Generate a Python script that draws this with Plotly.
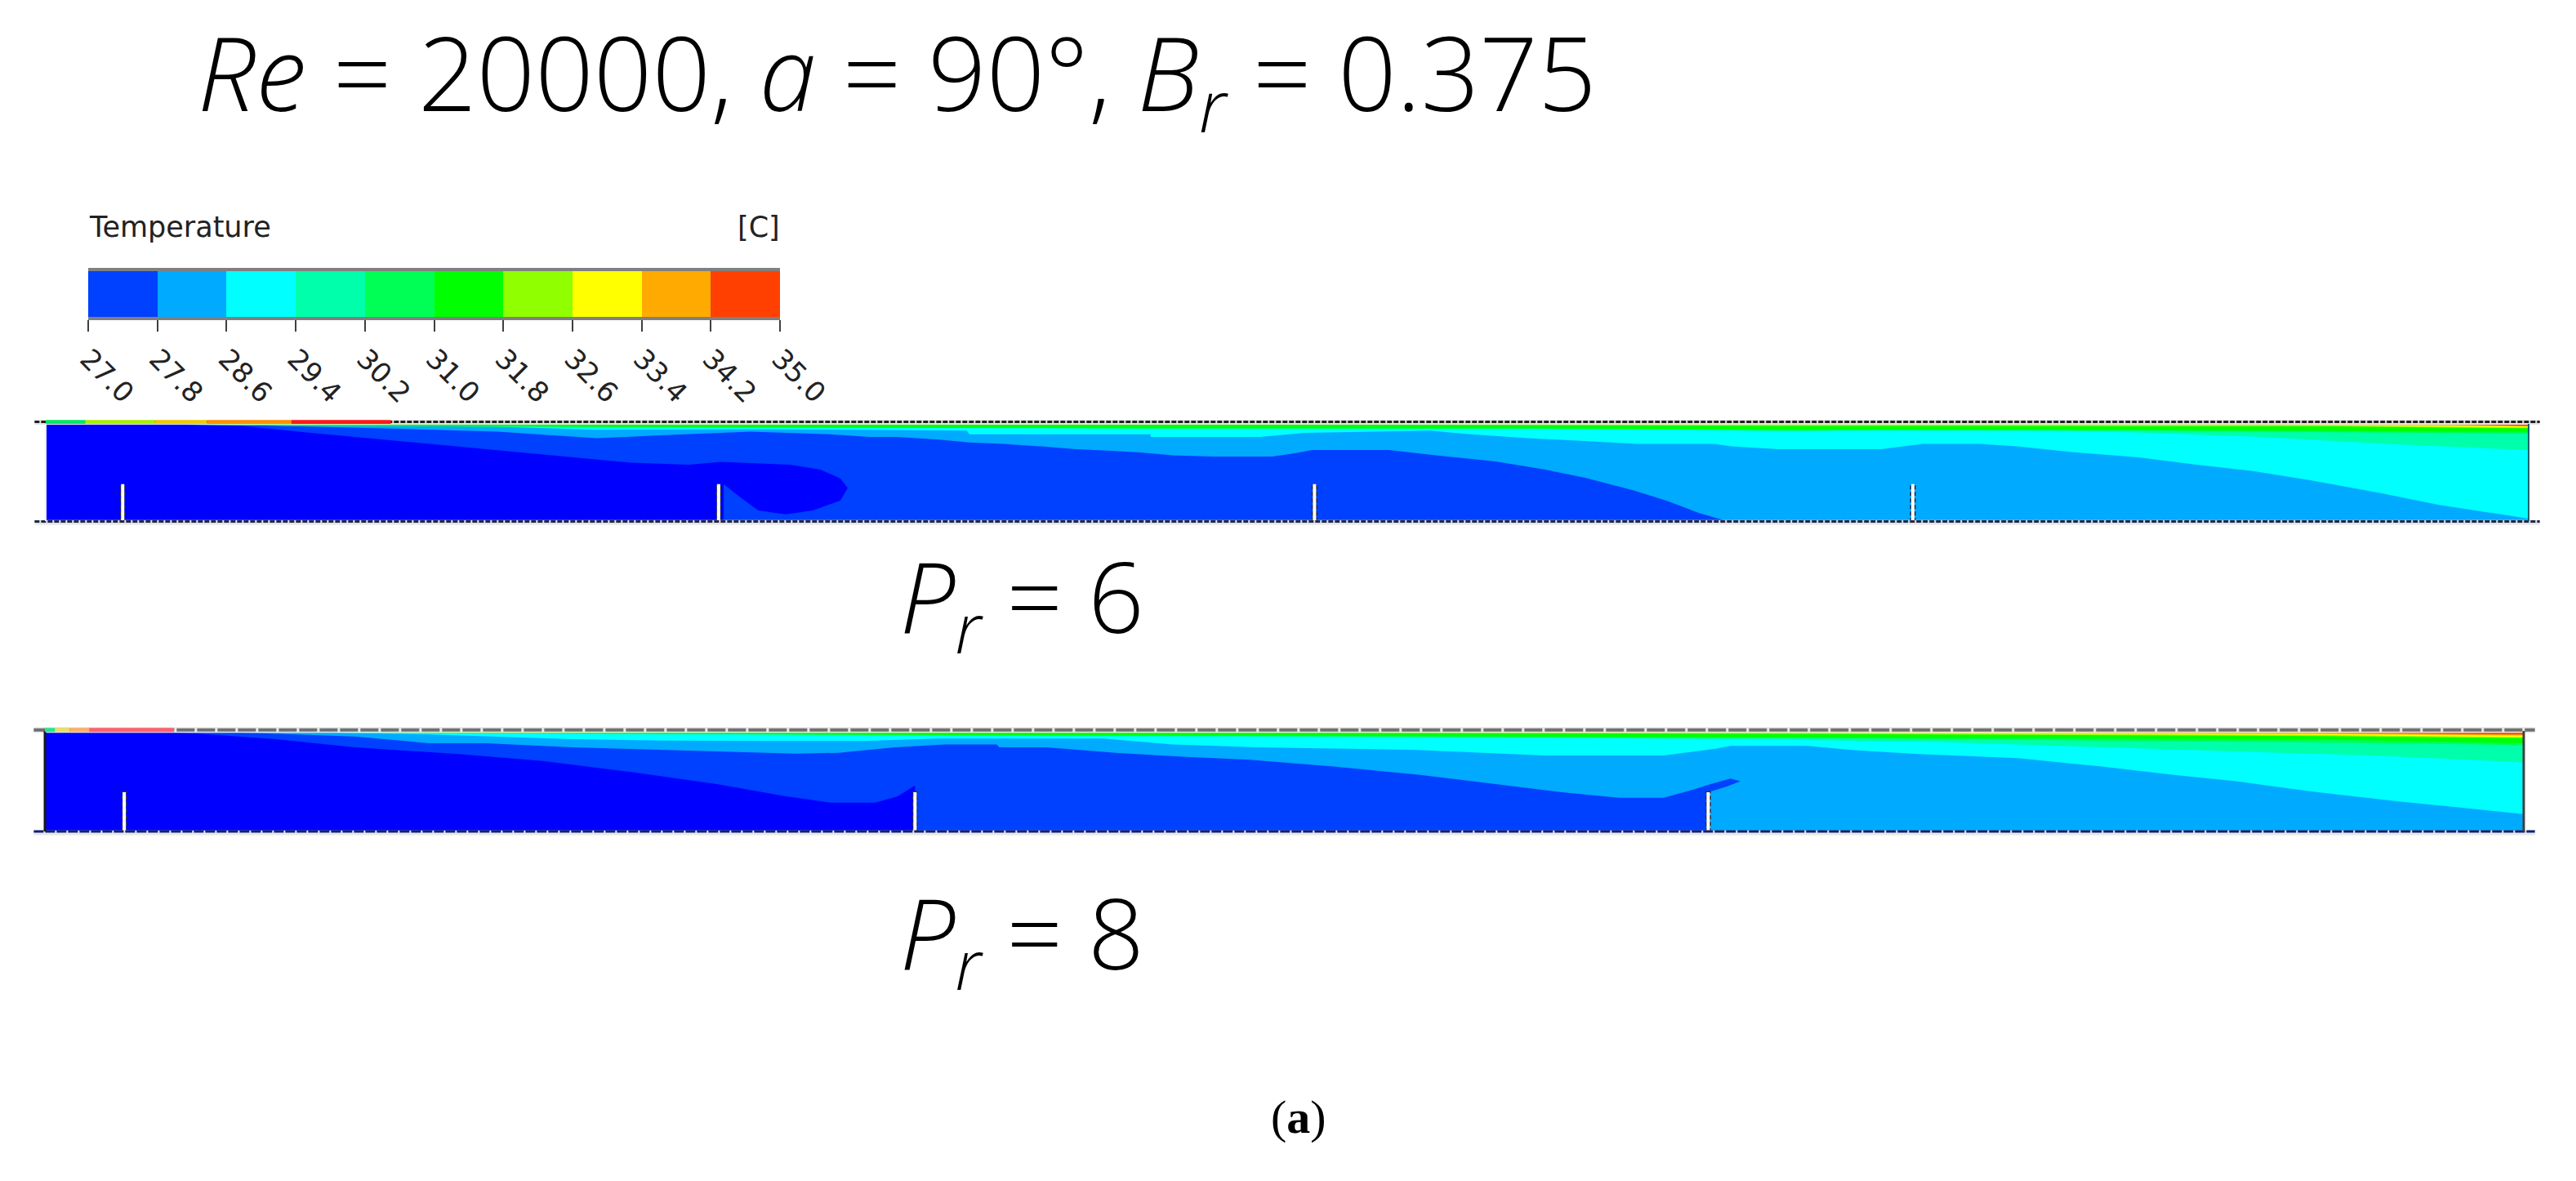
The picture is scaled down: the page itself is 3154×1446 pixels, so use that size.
import plotly.graph_objects as go

W, H = 3154, 1446

# colour legend
legend_ticks = [27.0, 27.8, 28.6, 29.4, 30.2, 31.0, 31.8, 32.6, 33.4, 34.2, 35.0]
legend_values = [27.4, 28.2, 29.0, 29.8, 30.6, 31.4, 32.2, 33.0, 33.8, 34.6]
legend_colors = ['#0040ff', '#00aaff', '#00ffff', '#00ffaa', '#00ff55',
                 '#00ff00', '#90ff00', '#ffff00', '#ffaa00', '#ff4000']

# isotherm lines, x in % of channel length, y in % of channel depth from top
# Pr = 6
p6_x = [[4, 7.9, 10.6, 14.3, 18.9, 23.6, 25.9, 27.2, 30, 31.2, 32, 32.3, 32, 30.9, 29.8, 28.7, 28, 27.3, 27.3, 100],
        [6, 10.4, 14.3, 18.2, 22.2, 24.7, 28.4, 31.6, 33.2, 34.3, 36, 37.2, 38.6, 40.1, 41.5, 42.8, 44.1, 45.4, 47, 49.4, 50.3, 51, 54.1, 56, 58.4, 60.4, 62, 63.9, 65.3, 66.6, 67.7, 100],
        [8, 14, 18.2, 22.2, 27, 28.4, 33, 34.3, 37.1, 37.2, 44.5, 44.5, 48.9, 50.7, 55.8, 57.4, 59.7, 62, 64.1, 67.2, 67.9, 69.8, 73.9, 75.6, 77.9, 79.4, 81.6, 84.3, 86.5, 88.9, 91.3, 94, 96.4, 100],
        [3, 20, 40, 60, 64.3, 70.5, 73.4, 78.8, 84.5, 89.3, 93.8, 100],
        [2, 10, 25, 45, 60, 70, 84, 100],
        [2, 10, 25, 45, 60, 70, 84, 100],
        [40, 60, 70, 78, 84, 92, 96, 100],
        [60, 80, 90, 95, 100],
        [70, 92, 96, 100],
        [95, 97, 100]]
p6_y = [[0, 2, 9, 18, 29, 40, 42, 39, 42, 47, 56, 66, 79, 89, 93, 89, 76, 62, 100, 100],
        [0, 2.5, 5, 7.9, 14.8, 11.8, 7.9, 10.8, 13.4, 13.4, 16.2, 19.1, 20.5, 23.2, 26.1, 27.5, 29.5, 32.3, 33.7, 33.7, 30.3, 26.9, 26.9, 32.3, 38.6, 47, 55.4, 68, 79.2, 91.8, 100, 100],
        [0, 1.5, 3, 6, 5.5, 5.5, 6, 6.5, 7, 10.8, 10.8, 13.4, 13.4, 9.2, 7, 10.8, 14.8, 17.6, 20.5, 20.5, 23.2, 26.1, 26.1, 20.5, 20.5, 23.2, 29, 34.5, 41.5, 48.5, 58.4, 71, 83.3, 97.5],
        [0, 1.5, 3.5, 5, 5.5, 8, 6, 5.5, 9, 13.4, 20, 26.9],
        [0, 2, 3.5, 4.8, 5, 6.5, 7, 10],
        [0, 1.8, 3, 4.5, 4.5, 6, 6, 8.4],
        [0, 1.5, 2, 2, 2.5, 2.5, 3.5, 4.5],
        [0, 1, 1, 2.5, 3.5],
        [0, 1, 1.5, 2.5],
        [0, 1, 2]]
p6_ribs = [3.1, 27.1, 51.1, 75.2]
p6_rib_top = 62
p6_wall_x = [0, 1.6, 4.4, 6.5, 9.9, 13.9]
p6_wall_colors = ['#00e860', '#a8f000', '#f0c800', '#ff9000', '#ff1818']

# Pr = 8
p8_x = [[4, 6.3, 9.3, 12.5, 16.7, 20.1, 23.6, 27.1, 29.9, 31.7, 33.5, 34.4, 35.1, 35.1, 100],
        [6, 10.4, 12.5, 15.5, 17.8, 21.3, 25, 27.6, 30.3, 32, 33.1, 34.3, 36.3, 38.4, 38.5, 40.4, 43.2, 45.9, 48.5, 51.9, 55.4, 58.9, 61.2, 63.5, 65.3, 66.5, 67.2, 68, 68.4, 67.8, 67.1, 67.1, 100],
        [8, 15.5, 21.3, 25, 29.2, 33, 36, 42.7, 45.5, 48.9, 52.6, 55.4, 58, 60.5, 65.3, 67.4, 68, 71.1, 72.9, 75.6, 79.6, 82.9, 85.8, 88.4, 91.7, 95.1, 97.3, 100],
        [3, 20, 40, 60, 68, 71, 76.2, 82.9, 88.4, 94, 100],
        [2, 20, 40, 60, 71, 76.2, 83, 94, 100],
        [2, 15, 30, 50, 70, 83, 92, 95, 100],
        [40, 55, 72, 83, 92, 100],
        [50, 72, 85, 92, 100],
        [60, 80, 92, 100],
        [85, 92, 100]]
p8_y = [[0, 2.8, 8.1, 16.3, 23, 29.8, 40.7, 52.8, 65, 71.3, 71.3, 65, 54.2, 100, 100],
        [0, 4, 5.4, 12.2, 12.2, 16.3, 19, 20.3, 22.5, 21.7, 19, 16.3, 13.5, 13.5, 16.3, 16.3, 21.7, 25.7, 28.5, 35.2, 43.4, 54.2, 61, 66.4, 66.4, 58.3, 52.8, 47.4, 50.1, 55.6, 61, 100, 100],
        [0, 3.5, 8.1, 9.5, 10, 10, 7.5, 7.5, 13.5, 16.3, 17.6, 19, 21.7, 24.4, 24.4, 17.6, 14.9, 14.9, 19, 23, 27.1, 35.2, 43.4, 50.1, 61, 70.5, 75.9, 82.7],
        [0, 2.5, 5, 6.5, 8, 9, 10.8, 16.3, 20.3, 24.4, 31.2],
        [0, 2.2, 4, 5.5, 7, 8, 9.5, 12, 14],
        [0, 2, 3.5, 5, 6, 7.5, 8.5, 10, 12.2],
        [0, 2, 3, 4, 5, 7],
        [0, 1.8, 3.5, 4, 6],
        [0, 2, 3, 4.5],
        [0, 1.5, 3.5]]
p8_ribs = [3.2, 35.1, 67.1]
p8_rib_top = 61
p8_wall_x = [0, 0.4, 1.0, 1.8, 5.2]
p8_wall_colors = ['#20e890', '#e8e060', '#ffb060', '#ff6070']

COLD = '#0000ff'

CH6 = dict(x0=56, x1=3096, top=519, bottom=638)
CH8 = dict(x0=55, x1=3090, top=895, bottom=1018)
X_RANGE = [-1, 101]
Y_RANGE = [104, -4]


def domains(ch):
    pad_x = (ch['x1'] - ch['x0']) / 100
    pad_y = 4 * (ch['bottom'] - ch['top']) / 100
    dx = [(ch['x0'] - pad_x) / W, (ch['x1'] + pad_x) / W]
    dy = [1 - (ch['bottom'] + pad_y) / H, 1 - (ch['top'] - pad_y) / H]
    return dx, dy


def add_channel(fig, axis, xs, ys, ribs, rib_top, wall_x, wall_colors, mesh):
    xa, ya = 'x' + axis, 'y' + axis

    def line(x, y, color, width, dash='solid'):
        fig.add_trace(go.Scatter(x=x, y=y, xaxis=xa, yaxis=ya, mode='lines', hoverinfo='skip',
                                 line=dict(color=color, width=width, dash=dash)))

    # coldest fluid first, each warmer band is painted over it from the top wall
    fig.add_trace(go.Scatter(x=[0, 100, 100, 0], y=[0, 0, 100, 100], xaxis=xa, yaxis=ya,
                             mode='lines', fill='toself', fillcolor=COLD, line=dict(width=0), hoverinfo='skip'))
    for bx, by, color in zip(xs, ys, legend_colors):
        fig.add_trace(go.Scatter(x=bx + [100, bx[0]], y=by + [0, 0], xaxis=xa, yaxis=ya,
                                 mode='lines', fill='toself', fillcolor=color, line=dict(width=0), hoverinfo='skip'))

    for rib in ribs:
        line([rib, rib], [101, rib_top - 1], mesh['rib'], 7, '5px,3px')
        line([rib, rib], [101, rib_top], 'white', 4)

    line([-0.45, 100.45], [mesh['top_y']] * 2, mesh['halo'], 7)
    line([-0.45, 100.45], [mesh['top_y']] * 2, mesh['top'], mesh['top_w'], mesh['top_dash'])
    line([-0.45, 100.45], [101.5] * 2, mesh['halo'], 6)
    line([-0.45, 100.45], [mesh['bot_y']] * 2, mesh['bot'], 3, mesh['bot_dash'])
    line([0, 0], [0, 100], mesh['left'], mesh['wall_w'])
    line([100, 100], [0, 100], mesh['right'], mesh['wall_w'])

    for i, color in enumerate(wall_colors):
        line(wall_x[i:i + 2], [mesh['top_y']] * 2, color, 5)


fig = go.Figure()

add_channel(fig, '', p6_x, p6_y, p6_ribs, p6_rib_top, p6_wall_x, p6_wall_colors,
            dict(top='#202020', top_w=3, top_dash='6px,2px', top_y=-2, halo='#e4e4e4',
                 bot='#20284a', bot_dash='6px,2px', bot_y=100.5, left='#e8e8ff', right='#106070',
                 rib='#202840', wall_w=2))
add_channel(fig, '2', p8_x, p8_y, p8_ribs, p8_rib_top, p8_wall_x, p8_wall_colors,
            dict(top='#707070', top_w=4, top_dash='22px,3px', top_y=-1, halo='#e8e8e8',
                 bot='#102070', bot_dash='12px,2px', bot_y=100, left='#181818', right='#404040',
                 rib='#283050', wall_w=3))

scale = [[i / 10, c] for i, c in enumerate(legend_colors) for i in (i, i + 1)]
fig.add_trace(go.Heatmap(x=legend_ticks, y=[0, 1], z=[legend_values], xaxis='x3', yaxis='y3',
                         zmin=27, zmax=35, colorscale=scale, showscale=False, hoverinfo='skip'))

dx6, dy6 = domains(CH6)
dx8, dy8 = domains(CH8)
hidden = dict(showgrid=False, zeroline=False, showticklabels=False, ticks='', showline=False)

fig.update_layout(
    width=W, height=H,
    margin=dict(l=0, r=0, t=0, b=0, autoexpand=False),
    paper_bgcolor='white', plot_bgcolor='white',
    showlegend=False,
    xaxis=dict(domain=dx6, range=X_RANGE, **hidden),
    yaxis=dict(domain=dy6, range=Y_RANGE, **hidden),
    xaxis2=dict(domain=dx8, range=X_RANGE, anchor='y2', **hidden),
    yaxis2=dict(domain=dy8, range=Y_RANGE, anchor='x2', **hidden),
    xaxis3=dict(domain=[108 / W, 955 / W], range=[27, 35], anchor='y3', tickmode='array', tickvals=legend_ticks,
                ticktext=[f'{v:.1f}' for v in legend_ticks], tickangle=45, ticks='outside',
                ticklen=14, tickwidth=2, tickcolor='#404040', showgrid=False, zeroline=False,
                showline=True, mirror=True, linecolor='#808080', linewidth=4,
                tickfont=dict(family='DejaVu Sans', size=34, color='#222222')),
    yaxis3=dict(domain=[1 - 388 / H, 1 - 332 / H], range=[0, 1], anchor='x3', **hidden),
)

TITLE_FONT = dict(family='Open Sans', size=125.5, color='black', weight=300)
PR_FONT = dict(family='Open Sans', size=120, color='black', weight=300)
fig.add_annotation(text='<i>Re</i> = 20000, <i>a</i> = 90°, <i>B<sub>r</sub></i> = 0.375', x=240 / W, y=1,
                   xref='paper', yref='paper', xanchor='left', yanchor='top', showarrow=False, font=TITLE_FONT)
fig.add_annotation(text='<i>P<sub>r</sub></i> = 6', x=1100 / W, y=1 - 645 / H,
                   xref='paper', yref='paper', xanchor='left', yanchor='top', showarrow=False, font=PR_FONT)
fig.add_annotation(text='<i>P<sub>r</sub></i> = 8', x=1100 / W, y=1 - 1057 / H,
                   xref='paper', yref='paper', xanchor='left', yanchor='top', showarrow=False, font=PR_FONT)
fig.add_annotation(text='Temperature', x=107 / W, y=1 - 256 / H, xref='paper', yref='paper',
                   xanchor='left', yanchor='top', showarrow=False,
                   font=dict(family='DejaVu Sans', size=35, color='#222222'))
fig.add_annotation(text='[C]', x=957 / W, y=1 - 256 / H, xref='paper', yref='paper',
                   xanchor='right', yanchor='top', showarrow=False,
                   font=dict(family='DejaVu Sans', size=35, color='#222222'))
fig.add_annotation(text='(<b>a</b>)', x=1590 / W, y=1 - 1367 / H, xref='paper', yref='paper',
                   xanchor='center', yanchor='middle', showarrow=False,
                   font=dict(family='Liberation Serif', size=58, color='black'))

fig.write_html("out.html", config=dict(displayModeBar=False),
               post_script="document.body.style.margin='0';document.documentElement.style.overflow='hidden';")
